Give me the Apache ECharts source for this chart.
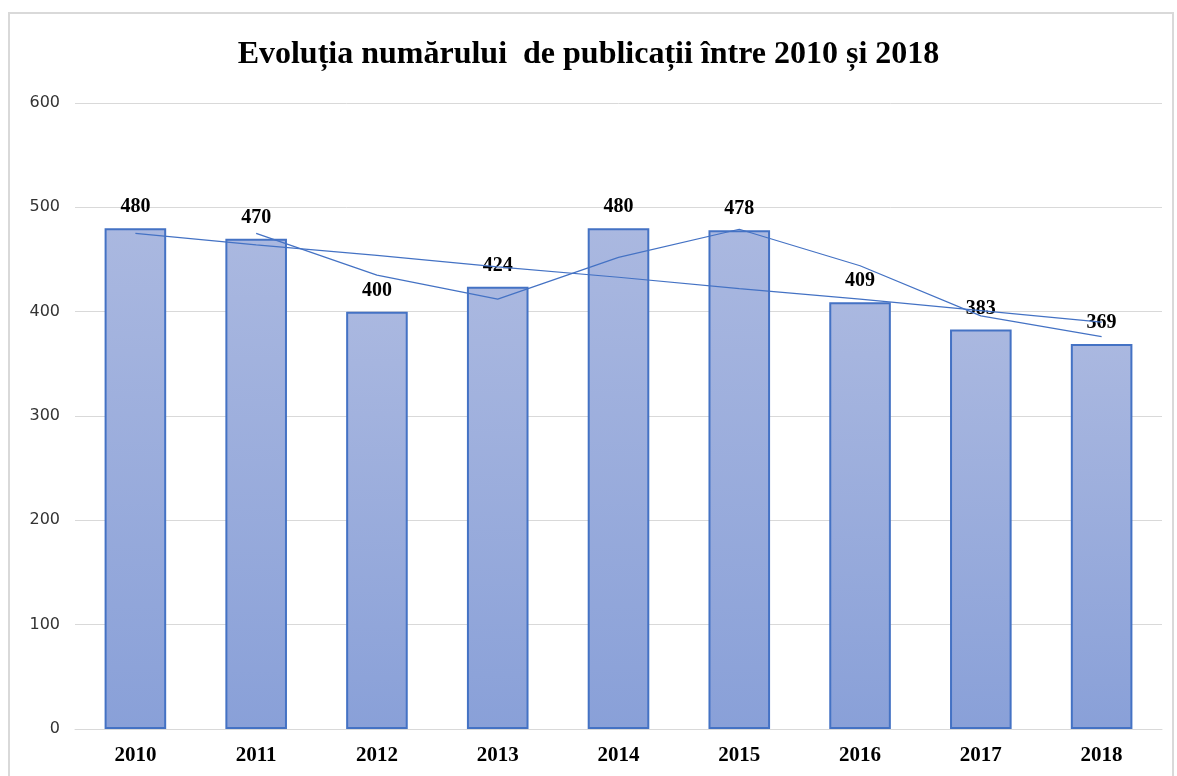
<!DOCTYPE html>
<html>
<head>
<meta charset="utf-8">
<script src="https://cdn.jsdelivr.net/npm/echarts@6/dist/echarts.min.js"></script>
<style>
  html, body { margin: 0; padding: 0; background: #fff; }
  #frame { position: absolute; left: 8px; top: 12px; width: 1166px; height: 775px; border: 2px solid #d9d9d9; box-sizing: border-box; }
  #main { position: absolute; left: 0; top: 0; width: 1177px; height: 776px; }
</style>
</head>
<body>
<div id="frame"></div>
<div id="main"></div>
<script>
  // date
  var years = ['2010', '2011', '2012', '2013', '2014', '2015', '2016', '2017', '2018'];
  var publicatii = [480, 470, 400, 424, 480, 478, 409, 383, 369];
  // linia de tendinta
  var tendinta = [475, 464, 454, 443, 433, 422, 412, 401, 390];
  // media mobila pe 2 perioade
  var mediaMobila = [null, 475, 435, 412, 452, 479, 444, 396, 376];
  var yTicks = [0, 100, 200, 300, 400, 500, 600];

  var myChart = echarts.init(document.getElementById('main'));

  var option = {
    animation: false,
    title: {
      text: 'Evoluția numărului  de publicații între 2010 și 2018',
      left: 'center',
      top: 34,
      textStyle: {
        fontFamily: 'Liberation Serif',
        fontWeight: 'bold',
        fontSize: 32,
        color: '#000'
      }
    },
    grid: {
      left: 75,
      right: 15,
      top: 103,
      bottom: 47
    },
    xAxis: {
      type: 'category',
      data: years,
      axisLine: { lineStyle: { color: '#d9d9d9' } },
      axisTick: { show: false },
      axisLabel: {
        margin: 16,
        fontFamily: 'Liberation Serif',
        fontWeight: 'bold',
        fontSize: 21,
        color: '#000'
      }
    },
    yAxis: {
      type: 'value',
      min: yTicks[0],
      max: yTicks[yTicks.length - 1],
      interval: 100,
      axisLine: { show: false },
      axisTick: { show: false },
      splitLine: { lineStyle: { color: '#d9d9d9', width: 1 } },
      axisLabel: {
        margin: 15,
        fontFamily: 'DejaVu Sans',
        fontSize: 16,
        color: '#333'
      }
    },
    series: [
      {
        type: 'bar',
        data: publicatii,
        barCategoryGap: '49%',
        itemStyle: {
          color: new echarts.graphic.LinearGradient(0, 0, 0, 1, [
            { offset: 0, color: '#aab8e0' },
            { offset: 1, color: '#89a0d8' }
          ]),
          borderColor: '#4472c4',
          borderWidth: 2
        },
        label: {
          show: true,
          position: 'top',
          distance: 11,
          fontFamily: 'Liberation Serif',
          fontWeight: 'bold',
          fontSize: 20,
          color: '#000'
        }
      },
      {
        type: 'line',
        data: tendinta,
        showSymbol: false,
        symbol: 'none',
        lineStyle: { color: '#4472c4', width: 1.2 },
        z: 3
      },
      {
        type: 'line',
        data: mediaMobila,
        showSymbol: false,
        symbol: 'none',
        lineStyle: { color: '#4472c4', width: 1.2 },
        z: 3
      }
    ]
  };

  myChart.setOption(option);
</script>
</body>
</html>
